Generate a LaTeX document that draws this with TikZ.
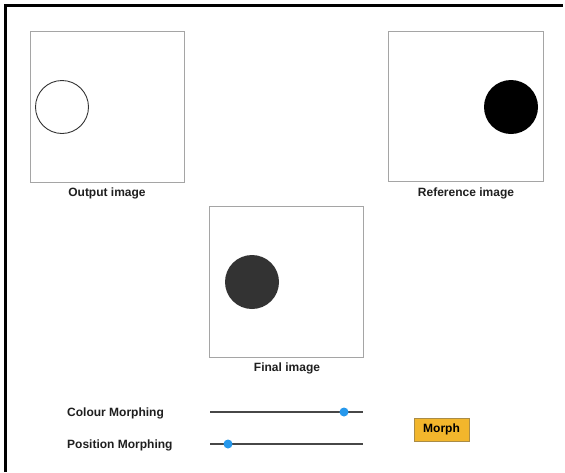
\documentclass[tikz,border=0pt]{standalone}
\usepackage{fontspec}
\setmainfont{Liberation Sans}
\definecolor{knobblue}{RGB}{38,152,236}
\definecolor{btnfill}{RGB}{242,182,44}
\definecolor{btnedge}{RGB}{170,140,70}
\definecolor{boxgray}{RGB}{165,165,165}
\begin{document}
\begin{tikzpicture}[x=1pt,y=-1pt,
  imgbox/.style={draw=boxgray,line width=1pt},
  lbl/.style={font=\bfseries\fontsize{12}{14}\selectfont,text=black!88,inner sep=0pt},
  track/.style={draw=black!72,line width=1.4pt},
  knob/.style={circle,fill=knobblue,inner sep=0pt,minimum size=9pt},
  btn/.style={draw=btnedge,fill=btnfill,line width=1pt,minimum width=55pt,minimum height=23pt,font=\bfseries\fontsize{12}{14}\selectfont,inner sep=0pt}]
\useasboundingbox (0,0) rectangle (565,472);
\fill[white] (0,0) rectangle (565,472);
% frame
\draw[black,line width=2.6pt] (5.3,472) -- (5.3,5.3) -- (563,5.3);
% output image
\draw[imgbox] (30,31) rectangle (184,182);
\draw[black!80,line width=0.9pt] (62,107) circle (26.5);
\node[lbl] (outl) at (107,193) {Output image};
% reference image
\draw[imgbox] (388,31) rectangle (543,181);
\fill[black] (511,107) circle (27);
\node[lbl] (refl) at (466,193) {Reference image};
% final image
\draw[imgbox] (209,206) rectangle (363,357);
\fill[black!80] (252,282) circle (27);
\node[lbl] (finl) at (287,368) {Final image};
% sliders
\node[lbl,anchor=west] (cm) at (67,413) {Colour Morphing};
\node[lbl,anchor=west] (pm) at (67,445) {Position Morphing};
\coordinate (c1) at (210,412); \coordinate (c2) at (363,412);
\coordinate (p1) at (210,444); \coordinate (p2) at (363,444);
\draw[track] (c1) -- (c2);
\draw[track] (p1) -- (p2);
\node[knob] (ck) at (344,412) {};
\node[knob] (pk) at (228,444) {};
% button
\node[btn] (morph) at (441.5,429.5) {Morph};
\end{tikzpicture}
\end{document}
